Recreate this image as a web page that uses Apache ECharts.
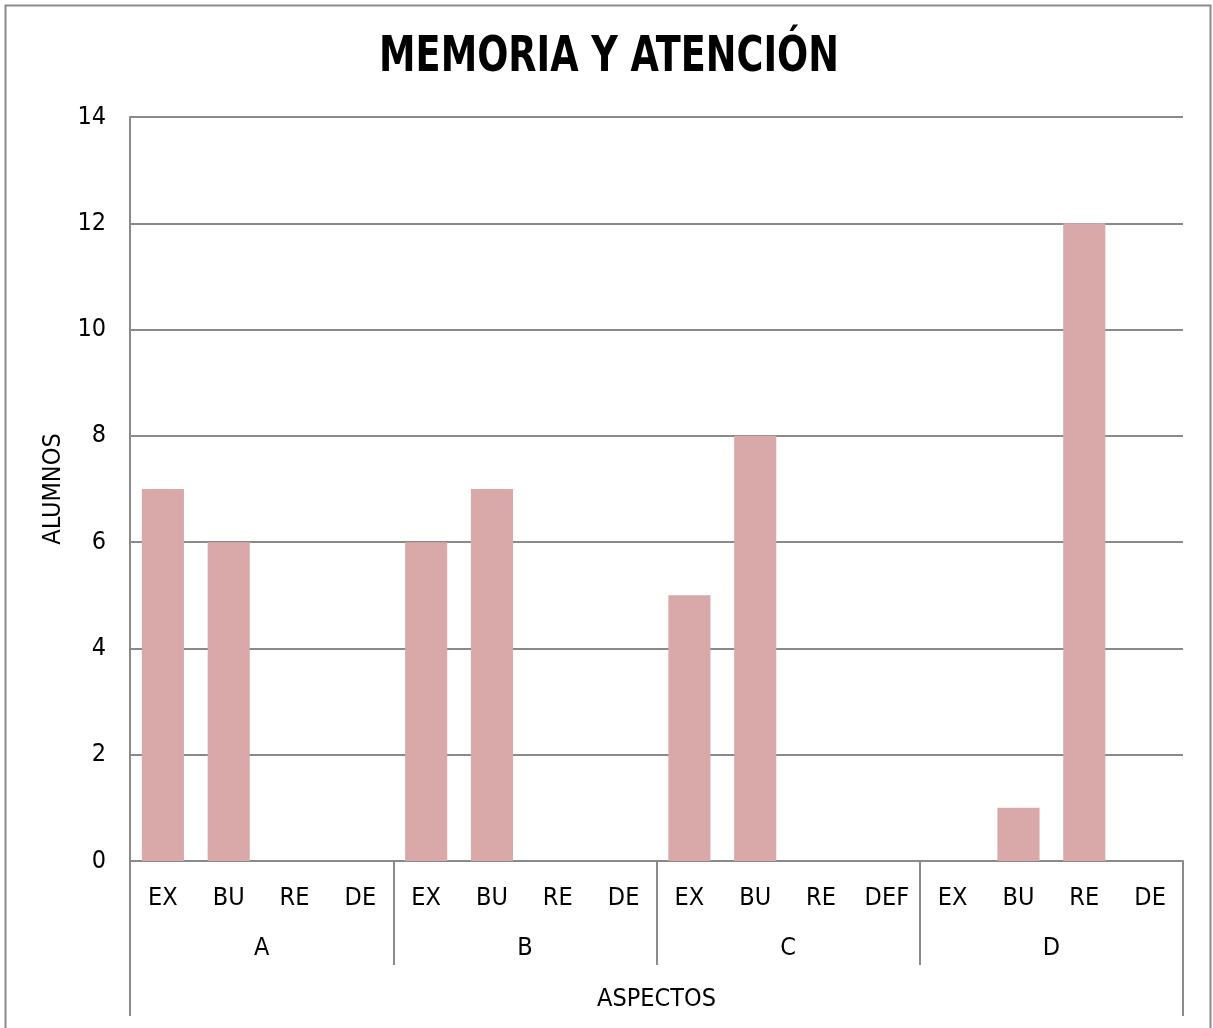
<!DOCTYPE html>
<html>
<head>
<meta charset="utf-8">
<script src="https://cdn.jsdelivr.net/npm/echarts@6/dist/echarts.min.js"></script>
<style>
  html, body { margin: 0; padding: 0; background: #ffffff; }
  #chart { width: 1213px; height: 1028px; }
</style>
</head>
<body>
<div id="chart"></div>
<script>
// ---- data ----
const subCategories = ['EX','BU','RE','DE','EX','BU','RE','DE','EX','BU','RE','DEF','EX','BU','RE','DE'];
const groups = ['A','B','C','D'];
const values = [7, 6, 0, 0, 6, 7, 0, 0, 5, 8, 0, 0, 0, 1, 12, 0];
const yTicks = [0, 2, 4, 6, 8, 10, 12, 14];
const titleText = 'MEMORIA Y ATENCIÓN';
const xAxisTitle = 'ASPECTOS';
const yAxisTitle = 'ALUMNOS';

const FONT = "'Liberation Sans Narrow', 'Arial Narrow', 'DejaVu Sans Condensed', sans-serif";
const GRAY = '#8a8a8a';

const chart = echarts.init(document.getElementById('chart'), null, { renderer: 'canvas' });

chart.setOption({
  backgroundColor: '#ffffff',
  animation: false,
  graphic: [
    {
      type: 'rect',
      shape: { x: 5.5, y: 5.5, width: 1205, height: 1040 },
      style: { fill: 'none', stroke: GRAY, lineWidth: 2 },
      silent: true
    },
    {
      type: 'text',
      x: 609,
      y: 58,
      scaleX: 0.815,
      style: {
        text: titleText,
        fontFamily: FONT,
        fontSize: 50,
        fontWeight: 'bold',
        fill: '#000000',
        align: 'center',
        verticalAlign: 'middle'
      },
      silent: true
    }
  ],
  grid: { left: 130, right: 30, top: 117, bottom: 167, containLabel: false },
  xAxis: [
    {
      type: 'category',
      data: subCategories,
      position: 'bottom',
      axisLine: { show: true, lineStyle: { color: GRAY, width: 2 } },
      axisTick: { show: false },
      axisLabel: { fontFamily: FONT, fontSize: 25, color: '#000000', margin: 25, interval: 0 },
      splitLine: { show: false }
    },
    {
      type: 'category',
      data: groups,
      position: 'bottom',
      axisLine: { show: false },
      axisTick: { show: true, length: 104, lineStyle: { color: GRAY, width: 2 } },
      axisLabel: { fontFamily: FONT, fontSize: 25, color: '#000000', margin: 75, interval: 0 },
      splitLine: { show: false }
    },
    {
      type: 'category',
      data: [xAxisTitle],
      position: 'bottom',
      axisLine: { show: false },
      axisTick: { show: true, length: 155, lineStyle: { color: GRAY, width: 2 } },
      axisLabel: { fontFamily: FONT, fontSize: 25, color: '#000000', margin: 126 },
      splitLine: { show: false }
    }
  ],
  yAxis: {
    type: 'value',
    min: yTicks[0],
    max: yTicks[yTicks.length - 1],
    interval: yTicks[1] - yTicks[0],
    name: yAxisTitle,
    nameLocation: 'middle',
    nameGap: 62,
    nameTextStyle: { fontFamily: FONT, fontSize: 25, color: '#000000' },
    axisLine: { show: true, lineStyle: { color: GRAY, width: 2 } },
    axisTick: { show: false },
    axisLabel: { fontFamily: FONT, fontSize: 25, color: '#000000', margin: 24 },
    splitLine: { show: true, lineStyle: { color: GRAY, width: 2 } }
  },
  series: [{
    type: 'bar',
    xAxisIndex: 0,
    data: values,
    barWidth: '64%',
    itemStyle: { color: '#D9A9A9' }
  }]
});
</script>
</body>
</html>
